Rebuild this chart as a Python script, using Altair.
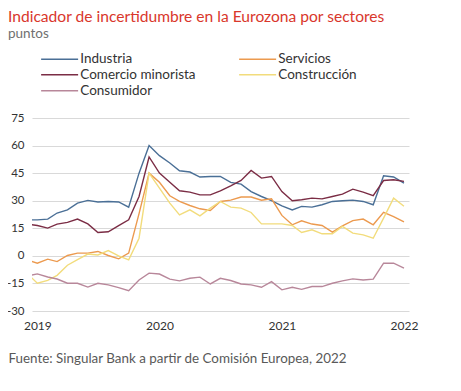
import altair as alt
import pandas as pd

FONT = "Lato"

months = pd.date_range("2018-12-01", periods=38, freq="MS")

sectores = ["Industria", "Servicios", "Comercio minorista", "Construcción", "Consumidor"]
colores = ["#4a6f96", "#ec9a4f", "#7b2d45", "#f2dc7c", "#b8879a"]

industria = [19.6, 19.6, 20.0, 23.3, 25.0, 28.7, 30.2, 29.3, 29.6, 29.3, 26.5, 45.0, 60.0,
             54.5, 50.5, 46.3, 45.6, 42.9, 43.2, 43.2, 40.0, 39.0, 35.0, 32.3, 30.0, 27.2,
             25.0, 26.9, 26.5, 27.8, 29.6, 30.0, 30.3, 29.6, 27.8, 43.6, 42.9, 39.6]
comercio = [17.3, 16.5, 15.1, 17.3, 18.2, 20.0, 17.4, 12.7, 13.1, 16.5, 19.6, 32.3, 53.8,
            45.0, 40.0, 35.4, 34.7, 33.2, 33.2, 35.4, 38.1, 41.0, 46.5, 42.3, 43.2, 35.0,
            30.0, 30.5, 31.4, 31.0, 32.3, 33.6, 36.3, 34.7, 32.7, 41.0, 41.4, 40.5]
servicios = [-2.2, -4.0, -1.8, -3.1, 0.2, 1.5, 1.5, 2.4, 0.2, -1.6, 1.5, 23.0, 45.0,
             40.0, 32.7, 29.6, 27.4, 25.6, 24.7, 29.6, 30.3, 32.0, 32.0, 30.3, 31.0, 22.0,
             16.9, 19.1, 17.3, 16.5, 12.9, 16.3, 19.2, 20.0, 16.9, 23.7, 21.4, 18.5]
construccion = [-9.5, -14.9, -13.3, -10.6, -5.1, -2.0, 1.0, 0.5, 2.9, 0.0, -2.2, 9.6, 45.0,
                36.9, 28.7, 22.3, 25.0, 21.8, 26.0, 29.6, 26.5, 26.0, 23.6, 17.4, 17.4, 17.4,
                16.5, 12.7, 14.2, 12.0, 12.0, 16.0, 12.4, 11.4, 9.6, 20.5, 31.4, 27.0]
consumidor = [-11.0, -9.8, -11.5, -12.6, -14.9, -14.9, -17.0, -14.9, -15.8, -17.3, -19.0, -13.1, -9.4,
              -9.9, -12.7, -13.6, -12.2, -11.6, -15.3, -12.2, -13.4, -15.3, -15.8, -17.1, -14.0, -18.5,
              -17.1, -18.2, -16.7, -16.7, -14.9, -13.6, -12.5, -13.1, -12.7, -4.0, -4.0, -6.7]

y_ticks = [-30, -15, 0, 15, 30, 45, 60, 75]
x_years = [2019, 2020, 2021, 2022]

series = {
    "Industria": industria,
    "Servicios": servicios,
    "Comercio minorista": comercio,
    "Construcción": construccion,
    "Consumidor": consumidor,
}

rows = []
for name, vals in series.items():
    for m, v in zip(months, vals):
        rows.append({"fecha": m.strftime("%Y-%m-%dT00:00:00"), "sector": name, "valor": v})
df = pd.DataFrame(rows)

chart = alt.Chart(df).mark_line(strokeWidth=1.4, clip=True).encode(
    x=alt.X(
        "fecha:T",
        scale=alt.Scale(domain=[alt.DateTime(year=2018, month=12, date=16),
                                alt.DateTime(year=2022, month=1, date=16)]),
        axis=alt.Axis(
            values=[alt.DateTime(year=y, month=1, date=1) for y in x_years],
            format="%Y", grid=False, domain=False, ticks=False,
            labelFont=FONT, labelFontSize=12, labelColor="#333333", labelPadding=9,
            title="Fuente: Singular Bank a partir de Comisión Europea, 2022",
            titleFont=FONT, titleFontSize=13.4, titleFontWeight="normal", titleColor="#595959",
            titleAnchor="start", titleAlign="left", titleBaseline="alphabetic",
            titleX=-24, titleY=51.5,
        ),
    ),
    y=alt.Y(
        "valor:Q",
        scale=alt.Scale(domain=[-30, 75], nice=False, zero=False),
        axis=alt.Axis(
            values=y_ticks, labelExpr="'' + datum.value", title=None,
            domain=False, ticks=False, grid=True, gridColor="#d9d9d9", gridWidth=1,
            labelFont=FONT, labelFontSize=11.5, labelColor="#333333", labelPadding=8,
        ),
    ),
    color=alt.Color(
        "sector:N",
        scale=alt.Scale(domain=sectores, range=colores),
        sort=sectores,
        legend=alt.Legend(
            orient="none", legendX=7, legendY=-66, columns=2, direction="horizontal",
            title=None,
            symbolType="M-1,0H7", symbolSize=85.5, symbolStrokeWidth=1.5,
            labelFont=FONT, labelFontSize=13.5, labelColor="#333333",
            labelOffset=27.75, columnPadding=40, rowPadding=1,
        ),
    ),
).properties(
    width=377,
    height=193,
    padding={"left": 24, "top": 110, "right": 44, "bottom": 72},
    autosize=alt.AutoSizeParams(type="none"),
    title=alt.TitleParams(
        text="Indicador de incertidumbre en la Eurozona por sectores",
        subtitle="puntos",
        anchor="start", frame="group", dx=-24, offset=12,
        font=FONT, fontSize=15.6, fontWeight="normal", color="#d9372c",
        subtitleFont=FONT, subtitleFontSize=13.5, subtitleColor="#707070", subtitlePadding=1,
    ),
).configure_view(stroke=None)

chart.save("out.html", embed_options={"renderer": "svg", "actions": False})
